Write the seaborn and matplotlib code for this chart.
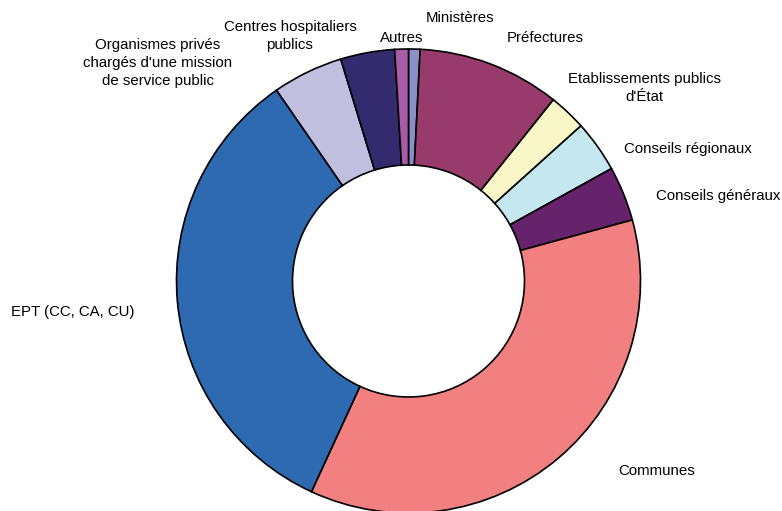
import matplotlib
matplotlib.use("Agg")
import matplotlib.pyplot as plt
import seaborn as sns
import numpy as np

# shares (%) read clockwise from the top of the ring
categories = [
    "Ministères",
    "Préfectures",
    "Etablissements publics\nd'État",
    "Conseils régionaux",
    "Conseils généraux",
    "Communes",
    "EPT (CC, CA, CU)",
    "Organismes privés\nchargés d'une mission\nde service public",
    "Centres hospitaliers\npublics",
    "Autres",
]
shares = [0.8, 9.9, 2.6, 3.6, 3.8, 36.0, 33.4, 4.9, 3.75, 0.95]
colors = [
    "#8C8FC7", "#993A6D", "#F9F7C8", "#C4E7F0", "#66226A",
    "#F28080", "#2E6AB1", "#C1BFDF", "#332B6E", "#A95BA7",
]
# label anchor points, in units of the outer radius
label_pos = [
    (0.222, 1.134), (0.588, 1.047), (1.019, 0.832), (1.205, 0.569),
    (1.334, 0.366), (1.071, -0.819), (-1.446, -0.134), (-1.080, 0.940),
    (-0.511, 1.056), (-0.028, 1.047),
]

sns.set_theme(style="white")
plt.rcParams["font.family"] = ["Liberation Sans", "DejaVu Sans"]

fig = plt.figure(figsize=(7.82, 5.11), dpi=100)
cx, cy, r = 408.5, 281, 232
ax = fig.add_axes([(cx - r) / 782, (511 - cy - r) / 511, 2 * r / 782, 2 * r / 511])

ax.pie(
    shares,
    colors=colors,
    startangle=90,
    counterclock=False,
    radius=1,
    wedgeprops=dict(width=0.5, edgecolor="black", linewidth=1.2),
)
ax.set_xlim(-1, 1)
ax.set_ylim(-1, 1)
ax.set_aspect("equal")
ax.axis("off")

for name, (x, y) in zip(categories, label_pos):
    ax.text(x, y, name, ha="center", va="center", fontsize=10.8,
            color="black", linespacing=1.4, clip_on=False)

fig.savefig("out.png", dpi=100, facecolor="white")
